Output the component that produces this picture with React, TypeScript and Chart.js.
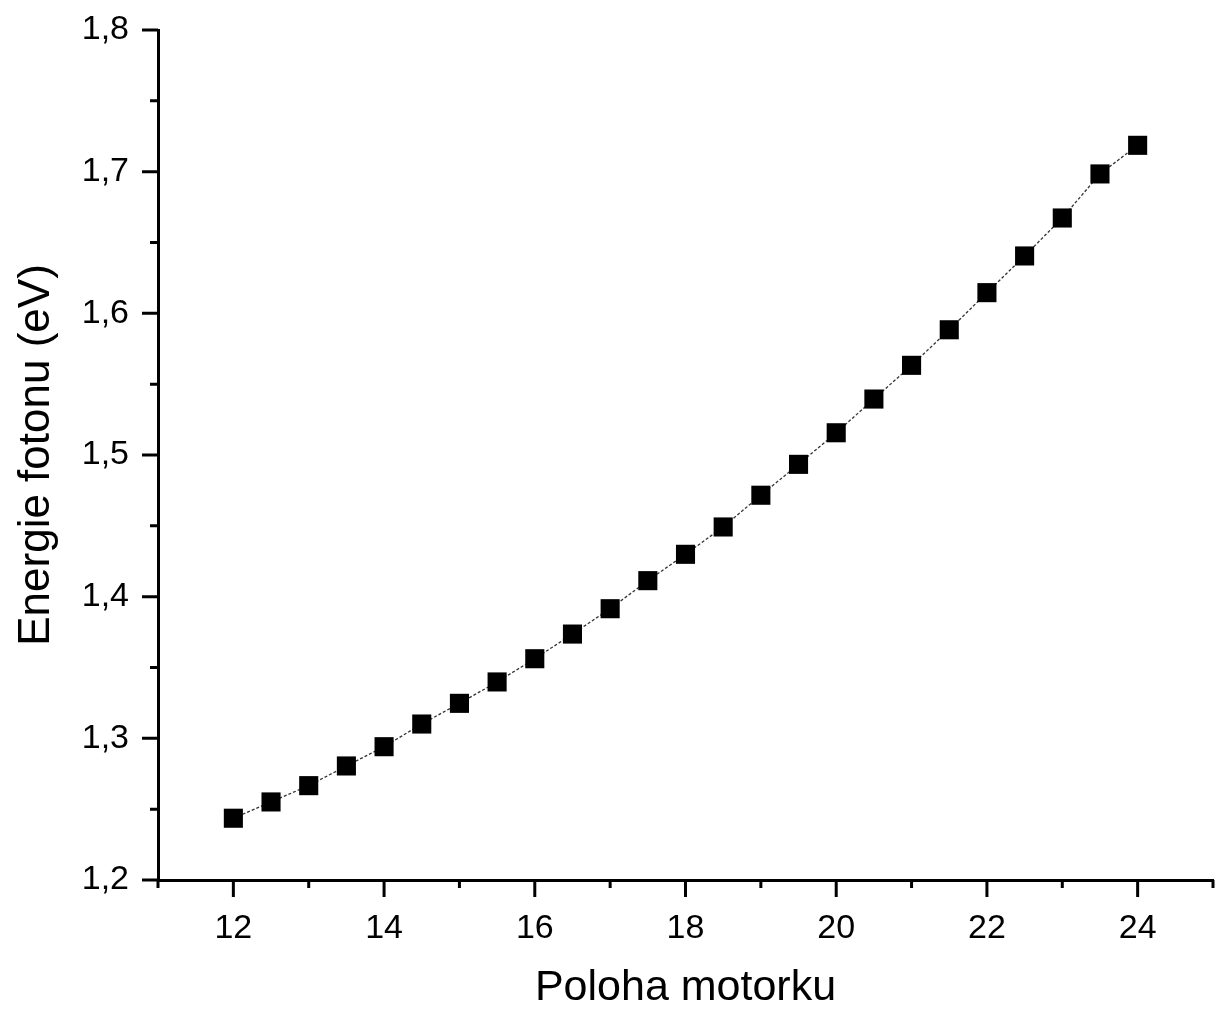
import React, { useEffect, useRef } from "react";
import { Chart, registerables } from "chart.js";

Chart.register(...registerables);

const motorPositions: number[] = [
  12, 12.5, 13, 13.5, 14, 14.5, 15, 15.5, 16, 16.5, 17, 17.5, 18, 18.5, 19,
  19.5, 20, 20.5, 21, 21.5, 22, 22.5, 23, 23.5, 24,
];
const photonEnergies: number[] = [
  1.2436, 1.2551, 1.2666, 1.2805, 1.2941, 1.3101, 1.3247, 1.3398, 1.3562,
  1.3736, 1.3915, 1.4113, 1.4299, 1.4492, 1.4716, 1.4934, 1.5157, 1.5395,
  1.5633, 1.5884, 1.6146, 1.6405, 1.6673, 1.6984, 1.7186,
];
const xTickValues: number[] = [11, 12, 13, 14, 15, 16, 17, 18, 19, 20, 21, 22, 23, 24, 25];
const yTickValues: number[] = [1.2, 1.25, 1.3, 1.35, 1.4, 1.45, 1.5, 1.55, 1.6, 1.65, 1.7, 1.75, 1.8];
const xTitle = "Poloha motorku";
const yTitle = "Energie fotonu (eV)";

const FONT = "'Liberation Sans', Arial, sans-serif";

const tickPlugin = {
  id: "originTicks",
  afterDraw(chart: any) {
    const ctx = chart.ctx;
    const xs = chart.scales.x;
    const ys = chart.scales.y;
    const area = chart.chartArea;
    ctx.save();
    ctx.strokeStyle = "#000";
    ctx.lineWidth = 3;
    ctx.lineCap = "butt";
    ctx.beginPath();
    for (const v of xTickValues) {
      const px = xs.getPixelForValue(v);
      const len = v % 2 === 0 ? 17 : 8;
      ctx.moveTo(px, area.bottom);
      ctx.lineTo(px, area.bottom + len);
    }
    for (let i = 0; i < yTickValues.length; i++) {
      const py = ys.getPixelForValue(yTickValues[i]);
      const len = i % 2 === 0 ? 16 : 8;
      ctx.moveTo(area.left, py);
      ctx.lineTo(area.left - len, py);
    }
    ctx.stroke();
    ctx.restore();
  },
};

export default function App() {
  const ref = useRef<HTMLCanvasElement>(null);

  useEffect(() => {
    document.body.style.margin = "0";
    const canvas = ref.current;
    if (!canvas) return;
    const chart = new Chart(canvas, {
      type: "line",
      data: {
        datasets: [
          {
            data: motorPositions.map((x, i) => ({ x, y: photonEnergies[i] })),
            borderColor: "#333",
            borderWidth: 1.3,
            borderDash: [3, 2],
            pointStyle: "rect",
            pointRadius: 13.5,
            pointHoverRadius: 13.5,
            pointBackgroundColor: "#000",
            pointBorderColor: "#000",
            pointBorderWidth: 0,
            tension: 0,
            clip: false as any,
          },
        ],
      },
      options: {
        animation: false,
        responsive: false,
        maintainAspectRatio: false,
        layout: { autoPadding: false, padding: { top: 30, right: 3, left: 0, bottom: 0 } },
        plugins: {
          legend: { display: false },
          tooltip: { enabled: false },
        },
        events: [],
        scales: {
          x: {
            type: "linear",
            position: "bottom",
            min: 11,
            max: 25,
            afterFit: (s: any) => {
              s.height = 130;
              s.paddingLeft = 0;
              s.paddingRight = 0;
            },
            grid: { display: false },
            border: { display: true, color: "#000", width: 3 },
            ticks: {
              stepSize: 1,
              autoSkip: false,
              maxRotation: 0,
              padding: 20,
              color: "#000",
              font: { family: FONT, size: 34 },
              callback: (v: any) => (Number(v) % 2 === 0 ? String(v) : ""),
            },
            title: {
              display: true,
              text: xTitle,
              color: "#000",
              font: { family: FONT, size: 43, lineHeight: 1 },
              padding: 0,
            },
          },
          y: {
            type: "linear",
            position: "left",
            min: 1.2,
            max: 1.8,
            afterFit: (s: any) => {
              s.width = 158;
              s.paddingTop = 0;
              s.paddingBottom = 0;
            },
            grid: { display: false },
            border: { display: true, color: "#000", width: 3 },
            ticks: {
              stepSize: 0.1,
              padding: 21,
              color: "#000",
              font: { family: FONT, size: 34 },
              callback: (v: any) => Number(v).toFixed(1).replace(".", ","),
            },
            title: {
              display: true,
              text: yTitle,
              color: "#000",
              font: { family: FONT, size: 44, lineHeight: 1 },
              padding: { top: 15, bottom: 0 },
            },
          },
        },
      },
      plugins: [tickPlugin],
    });
    return () => chart.destroy();
  }, []);

  return (
    <canvas
      ref={ref}
      width={1216}
      height={1010}
      style={{ display: "block", width: 1216, height: 1010 }}
    />
  );
}
